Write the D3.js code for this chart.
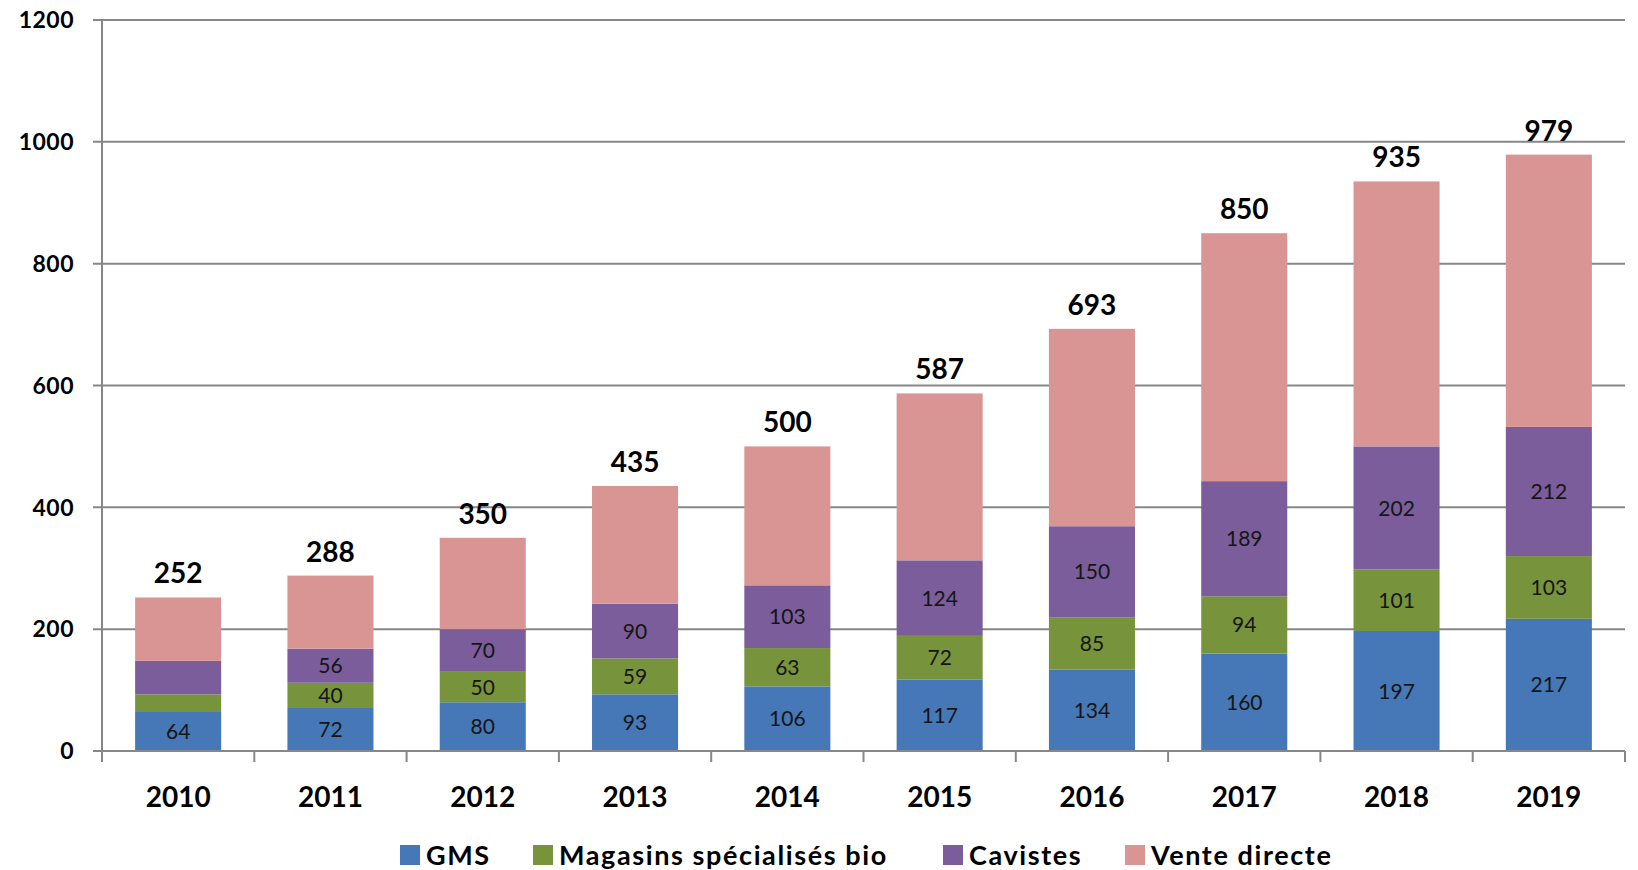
<!DOCTYPE html>
<html>
<head>
<meta charset="utf-8">
<script src="https://cdn.jsdelivr.net/npm/d3@7"></script>
<style>
  html, body { margin: 0; padding: 0; background: #fff; }
  svg { display: block; font-family: Lato, "Open Sans", sans-serif; }
</style>
</head>
<body>
<div id="chart"></div>
<script>
// values
const years = ["2010", "2011", "2012", "2013", "2014", "2015", "2016", "2017", "2018", "2019"];
const gms = [64, 72, 80, 93, 106, 117, 134, 160, 197, 217];
const bio = [29, 40, 50, 59, 63, 72, 85, 94, 101, 103];
const cavistes = [55, 56, 70, 90, 103, 124, 150, 189, 202, 212];
const venteDirecte = [104, 120, 150, 193, 228, 274, 324, 407, 435, 447];
const totals = [252, 288, 350, 435, 500, 587, 693, 850, 935, 979];
const yTicks = [0, 200, 400, 600, 800, 1000, 1200];

const seriesNames = ["GMS", "Magasins spécialisés bio", "Cavistes", "Vente directe"];
const seriesValues = [gms, bio, cavistes, venteDirecte];
const colors = ["#4677b6", "#77933c", "#7a5d9a", "#d99594"];
const labelled = [true, true, true, false];
const unlabelled = ["Magasins spécialisés bio|2010", "Cavistes|2010"];

const width = 1638, height = 870;
const margin = {top: 20, right: 13, bottom: 119, left: 102};

const table = years.map((yr, i) => {
    const row = {year: yr};
    seriesNames.forEach((s, k) => row[s] = seriesValues[k][i]);
    return row;
});
const stacked = d3.stack().keys(seriesNames)(table);

const svg = d3.select("#chart")
    .append("svg")
    .attr("width", width)
    .attr("height", height);

const x = d3.scaleBand()
    .domain(years)
    .range([margin.left, width - margin.right])
    .paddingInner(0.435)
    .paddingOuter(0.2175);

const y = d3.scaleLinear()
    .domain([0, 1200])
    .range([height - margin.bottom, margin.top]);

const grey = "#878787";

// gridlines + y ticks
svg.append("g")
    .selectAll("line")
    .data(yTicks)
    .join("line")
    .attr("x1", margin.left - 9)
    .attr("x2", width - margin.right)
    .attr("y1", d => y(d))
    .attr("y2", d => y(d))
    .attr("stroke", grey)
    .attr("stroke-width", 2);

svg.append("g")
    .selectAll("text")
    .data(yTicks)
    .join("text")
    .attr("x", 74)
    .attr("y", d => y(d))
    .attr("dy", "0.36em")
    .attr("text-anchor", "end")
    .attr("font-size", 23)
    .attr("font-weight", 700)
    .attr("letter-spacing", 0.5)
    .attr("fill", "#000")
    .text(d => d);

// y axis line
svg.append("line")
    .attr("x1", margin.left).attr("x2", margin.left)
    .attr("y1", y(1200)).attr("y2", y(0))
    .attr("stroke", grey).attr("stroke-width", 2);

// bars
const layers = svg.append("g")
    .selectAll("g")
    .data(stacked)
    .join("g")
    .attr("fill", (d, i) => colors[i]);

layers.selectAll("rect")
    .data(d => d)
    .join("rect")
    .attr("x", d => x(d.data.year))
    .attr("width", x.bandwidth())
    .attr("y", d => y(d[1]))
    .attr("height", d => y(d[0]) - y(d[1]));

// segment labels
stacked.forEach((layer, k) => {
    if (!labelled[k]) return;
    svg.append("g")
        .selectAll("text")
        .data(layer.filter(d => !unlabelled.includes(layer.key + "|" + d.data.year)))
        .join("text")
        .attr("x", d => x(d.data.year) + x.bandwidth() / 2)
        .attr("y", d => y((d[0] + d[1]) / 2))
        .attr("dy", "0.36em")
        .attr("text-anchor", "middle")
        .attr("font-size", 21)
        .attr("fill", "#151515")
        .text(d => d[1] - d[0]);
});

// totals above bars
svg.append("g")
    .selectAll("text")
    .data(years)
    .join("text")
    .attr("x", d => x(d) + x.bandwidth() / 2)
    .attr("y", (d, i) => y(totals[i]) - 14)
    .attr("text-anchor", "middle")
    .attr("font-size", 28)
    .attr("font-weight", 700)
    .attr("fill", "#000")
    .text((d, i) => totals[i]);

// x axis
const xAxis = svg.append("g")
    .attr("transform", `translate(0,${y(0)})`);
xAxis.append("line")
    .attr("x1", margin.left - 9).attr("x2", width - margin.right)
    .attr("stroke", grey).attr("stroke-width", 2);
const bounds = years.map(d => x(d) - x.step() * x.paddingInner() / 2)
    .concat([width - margin.right]);
bounds[0] = margin.left;
xAxis.selectAll(".tk")
    .data(bounds)
    .join("line")
    .attr("class", "tk")
    .attr("x1", d => d).attr("x2", d => d)
    .attr("y1", 0).attr("y2", 11)
    .attr("stroke", grey).attr("stroke-width", 2);
xAxis.selectAll("text")
    .data(years)
    .join("text")
    .attr("x", d => x(d) + x.bandwidth() / 2)
    .attr("y", 56)
    .attr("text-anchor", "middle")
    .attr("font-size", 28)
    .attr("font-weight", 700)
    .attr("fill", "#000")
    .text(d => d);

// legend
const legendX = [400, 533, 943, 1125];
const legend = svg.append("g")
    .selectAll("g")
    .data(seriesNames)
    .join("g")
    .attr("transform", (d, i) => `translate(${legendX[i]},845)`);
legend.append("rect")
    .attr("width", 20).attr("height", 20)
    .attr("fill", (d, i) => colors[i]);
legend.append("text")
    .attr("x", 26)
    .attr("y", 10)
    .attr("dy", "0.36em")
    .attr("font-size", 27)
    .attr("font-weight", 700)
    .attr("letter-spacing", 1.6)
    .attr("fill", "#000")
    .text(d => d);
</script>
</body>
</html>
